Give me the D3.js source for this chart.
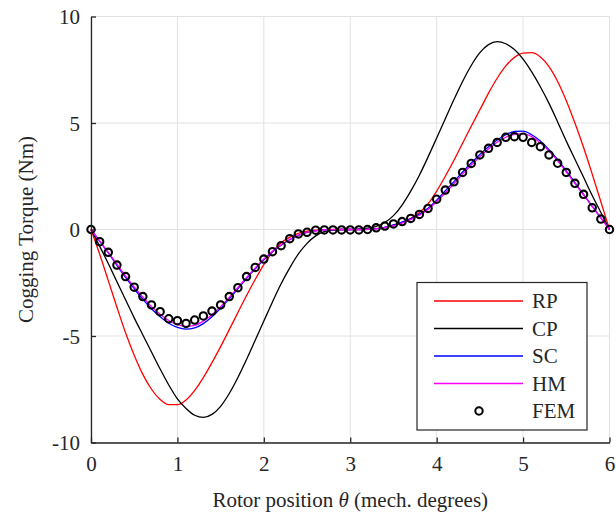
<!DOCTYPE html>
<html>
<head>
<meta charset="utf-8">
<script src="https://cdn.jsdelivr.net/npm/d3@7"></script>
<style>
  body { margin: 0; background: #fff; }
  svg text { font-family: "Liberation Serif", "Times New Roman", serif; fill: #262626; }
</style>
</head>
<body>
<div id="vis"></div>
<script>
// rotor position, 0.1 mech. degree steps
var theta = d3.range(61).map(function (i) { return +(i * 0.1).toFixed(1); });

var rp = [0, -1.15, -2.4, -3.65, -4.85, -5.9, -6.8, -7.5, -7.98, -8.22,
  -8.22, -8.0, -7.55, -6.95, -6.25, -5.5, -4.7, -3.9, -3.1, -2.35,
  -1.65, -1.05, -0.62, -0.36, -0.18, -0.08, -0.03, -0.01, 0, 0,
  0, 0, 0.01, 0.04, 0.1, 0.2, 0.34, 0.53, 0.8, 1.2,
  1.8, 2.5, 3.25, 4.05, 4.85, 5.62, 6.4, 7.1, 7.68, 8.08,
  8.28, 8.3, 8.1, 7.65, 6.95, 6.05, 5.0, 3.85, 2.6, 1.3, 0];

var cp = [0, -0.78, -1.6, -2.45, -3.3, -4.15, -4.95, -5.75, -6.55, -7.3,
  -7.95, -8.4, -8.72, -8.82, -8.68, -8.3, -7.7, -6.95, -6.1, -5.2,
  -4.3, -3.4, -2.55, -1.8, -1.15, -0.65, -0.3, -0.1, -0.03, 0,
  0, 0.02, 0.06, 0.15, 0.33, 0.65, 1.15, 1.8, 2.55, 3.4,
  4.3, 5.2, 6.1, 6.95, 7.7, 8.3, 8.68, 8.82, 8.72, 8.45,
  8.0, 7.4, 6.7, 5.92, 5.05, 4.15, 3.3, 2.45, 1.6, 0.8, 0];

var sc = [0, -0.55, -1.1, -1.68, -2.25, -2.78, -3.28, -3.72, -4.1, -4.4,
  -4.6, -4.68, -4.62, -4.42, -4.1, -3.7, -3.25, -2.78, -2.3, -1.85,
  -1.42, -1.05, -0.74, -0.48, -0.28, -0.14, -0.06, -0.02, -0.01, 0,
  0, 0, 0.01, 0.04, 0.1, 0.22, 0.35, 0.5, 0.72, 1.0,
  1.38, 1.82, 2.25, 2.7, 3.12, 3.52, 3.88, 4.2, 4.45, 4.6,
  4.62, 4.45, 4.15, 3.75, 3.28, 2.75, 2.2, 1.65, 1.1, 0.55, 0];

var hm = [0, -0.53, -1.07, -1.63, -2.18, -2.7, -3.18, -3.62, -3.98, -4.27,
  -4.47, -4.55, -4.5, -4.3, -4.0, -3.62, -3.18, -2.72, -2.25, -1.8,
  -1.38, -1.02, -0.72, -0.46, -0.27, -0.14, -0.06, -0.02, -0.01, 0,
  0, 0, 0.01, 0.03, 0.08, 0.17, 0.3, 0.46, 0.67, 0.94,
  1.3, 1.72, 2.15, 2.6, 3.02, 3.42, 3.78, 4.1, 4.33, 4.47,
  4.5, 4.36, 4.07, 3.68, 3.22, 2.7, 2.16, 1.62, 1.08, 0.54, 0];

var fem = [0, -0.57, -1.07, -1.67, -2.21, -2.71, -3.15, -3.54, -3.86, -4.19,
  -4.28, -4.41, -4.25, -4.06, -3.83, -3.54, -3.15, -2.73, -2.21, -1.78,
  -1.39, -1.04, -0.76, -0.43, -0.21, -0.13, -0.03, -0.02, -0.02, -0.02,
  -0.02, -0.02, 0, 0.08, 0.16, 0.26, 0.37, 0.52, 0.71, 0.99,
  1.42, 1.85, 2.24, 2.68, 3.1, 3.5, 3.81, 4.09, 4.33, 4.36,
  4.33, 4.09, 3.89, 3.5, 3.11, 2.68, 2.17, 1.65, 1.02, 0.49, 0];

var xTicks = [0, 1, 2, 3, 4, 5, 6];
var yTicks = [-10, -5, 0, 5, 10];

var lineSeries = [
  { name: 'RP', values: rp, color: '#ff0000' },
  { name: 'CP', values: cp, color: '#000000' },
  { name: 'SC', values: sc, color: '#0000ff' },
  { name: 'HM', values: hm, color: '#ff00ff' }
];

var margin = { left: 91, top: 16.5, right: 6.5, bottom: 73.5 };
var W = 616, H = 516;
var width = W - margin.left - margin.right;
var height = H - margin.top - margin.bottom;

var svg = d3.select('#vis').append('svg')
  .attr('width', W)
  .attr('height', H);

var g = svg.append('g')
  .attr('transform', 'translate(' + margin.left + ',' + margin.top + ')');

var xScale = d3.scaleLinear().domain([0, 6]).range([0, width]);
var yScale = d3.scaleLinear().domain([-10, 10]).range([height, 0]);

/* ****** grid ****** */
g.selectAll('.vgrid').data(xTicks).enter().append('line')
  .attr('x1', function (d) { return xScale(d); })
  .attr('x2', function (d) { return xScale(d); })
  .attr('y1', 0).attr('y2', height)
  .attr('stroke', '#e2e2e2').attr('stroke-width', 1);
g.selectAll('.hgrid').data(yTicks).enter().append('line')
  .attr('y1', function (d) { return yScale(d); })
  .attr('y2', function (d) { return yScale(d); })
  .attr('x1', 0).attr('x2', width)
  .attr('stroke', '#e2e2e2').attr('stroke-width', 1);

/* ****** curves ****** */
var line = d3.line()
  .x(function (d, i) { return xScale(theta[i]); })
  .y(function (d) { return yScale(d); })
  .curve(d3.curveMonotoneX);

lineSeries.forEach(function (s) {
  g.append('path')
    .datum(s.values)
    .attr('d', line)
    .attr('fill', 'none')
    .attr('stroke', s.color)
    .attr('stroke-width', 1.3);
});

g.selectAll('.fem').data(fem).enter().append('circle')
  .attr('cx', function (d, i) { return xScale(theta[i]); })
  .attr('cy', function (d) { return yScale(d); })
  .attr('r', 3.7)
  .attr('fill', 'none')
  .attr('stroke', '#000')
  .attr('stroke-width', 2.1);

/* ****** axes ****** */
var xAxis = d3.axisBottom(xScale).tickValues(xTicks).tickSizeInner(-5).tickSizeOuter(0)
  .tickFormat(d3.format('d'));
var yAxis = d3.axisLeft(yScale).tickValues(yTicks).tickSizeInner(-5).tickSizeOuter(0)
  .tickFormat(function (d) { return d; });

var gx = g.append('g').attr('transform', 'translate(0,' + height + ')').call(xAxis);
var gy = g.append('g').call(yAxis);

[gx, gy].forEach(function (a) {
  a.select('.domain').attr('stroke', '#262626').attr('stroke-width', 1.3);
  a.selectAll('.tick line').attr('stroke', '#262626').attr('stroke-width', 1.3);
  a.selectAll('.tick text').attr('font-size', 21).attr('fill', '#262626')
    .attr('font-family', '"Liberation Serif", serif');
});
gx.selectAll('.tick text').attr('y', 14);
gy.selectAll('.tick text').attr('x', -11).attr('dy', '0.35em');

/* ****** labels ****** */
svg.append('text')
  .attr('transform', 'translate(33,' + (margin.top + height / 2) + ') rotate(-90)')
  .attr('text-anchor', 'middle')
  .attr('font-size', 21)
  .text('Cogging Torque (Nm)');

var xl = svg.append('text')
  .attr('x', margin.left + width / 2)
  .attr('y', 507)
  .attr('text-anchor', 'middle')
  .attr('font-size', 21);
xl.append('tspan').text('Rotor position ');
xl.append('tspan').attr('font-style', 'italic').text('\u03b8');
xl.append('tspan').text(' (mech. degrees)');

/* ****** legend ****** */
var lg = svg.append('g').attr('transform', 'translate(417,282.5)');
lg.append('rect')
  .attr('width', 170).attr('height', 147.5)
  .attr('fill', '#fff')
  .attr('stroke', '#262626').attr('stroke-width', 1.2);

var rows = lineSeries.map(function (s) { return { name: s.name, color: s.color, marker: false }; })
  .concat([{ name: 'FEM', color: '#000', marker: true }]);

rows.forEach(function (r, i) {
  var y = 18.5 + i * 27.5;
  if (r.marker) {
    lg.append('circle').attr('cx', 62).attr('cy', y).attr('r', 3.7)
      .attr('fill', 'none').attr('stroke', '#000').attr('stroke-width', 2.1);
  } else {
    lg.append('line').attr('x1', 17).attr('x2', 106).attr('y1', y).attr('y2', y)
      .attr('stroke', r.color).attr('stroke-width', 1.3);
  }
  lg.append('text').attr('x', 115).attr('y', y).attr('dy', '0.35em')
    .attr('font-size', 21).text(r.name);
});
</script>
</body>
</html>
